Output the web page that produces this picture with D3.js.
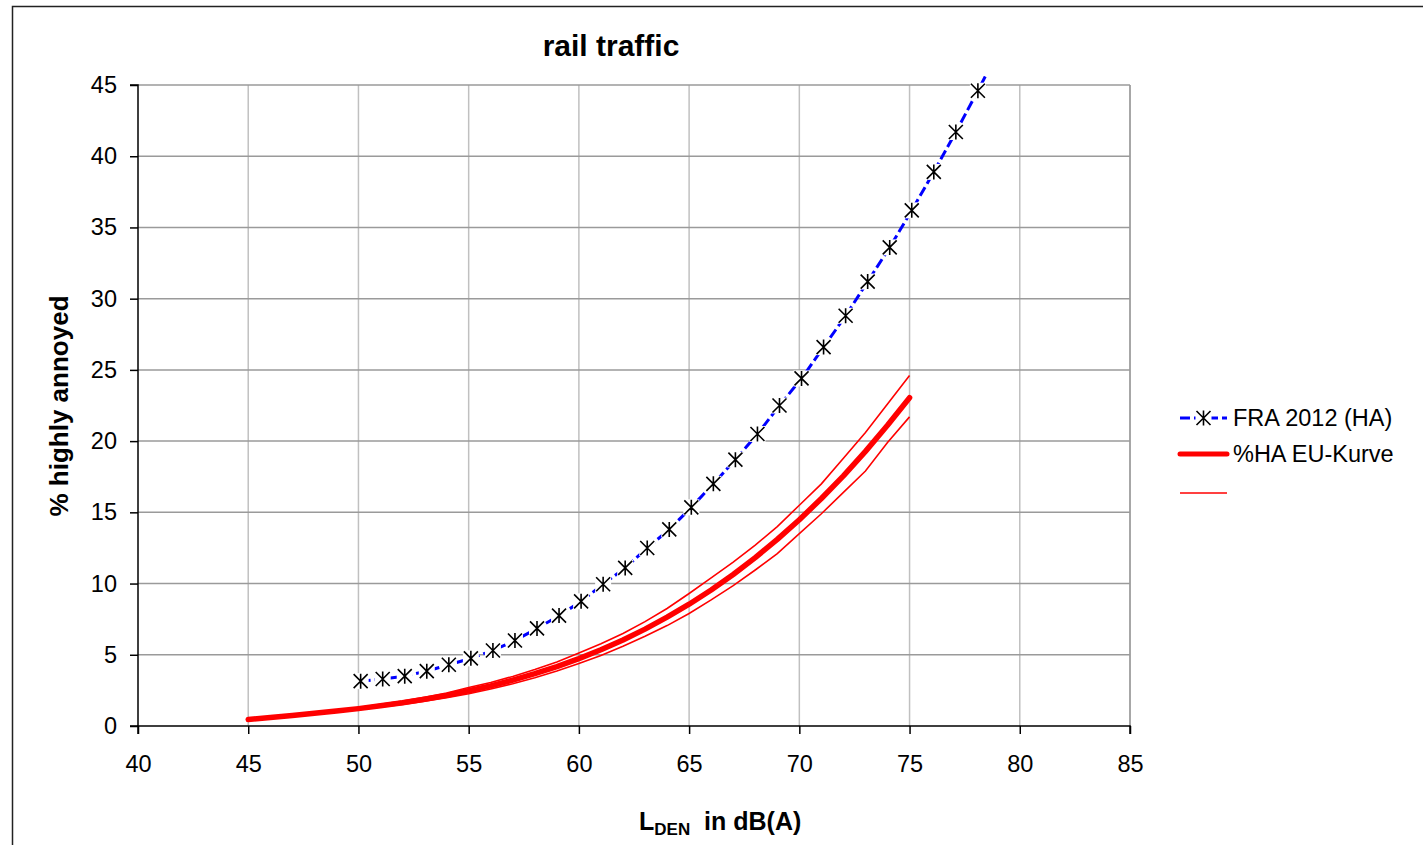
<!DOCTYPE html>
<html>
<head>
<meta charset="utf-8">
<script src="https://cdn.jsdelivr.net/npm/d3@7"></script>
<style>
  body { margin: 0; background: #fff; }
  svg { display: block; font-family: "Liberation Sans", Arial, sans-serif; }
</style>
</head>
<body>
<div id="chart"></div>
<script>
// tick values
var xTicks = [40, 45, 50, 55, 60, 65, 70, 75, 80, 85];
var yTicks = [0, 5, 10, 15, 20, 25, 30, 35, 40, 45];

// FRA 2012 (HA)
var fraLden = [50.1, 51.1, 52.1, 53.1, 54.1, 55.1, 56.1, 57.1, 58.1, 59.1, 60.1, 61.1, 62.1, 63.1, 64.1,
               65.1, 66.1, 67.1, 68.1, 69.1, 70.1, 71.1, 72.1, 73.1, 74.1, 75.1, 76.1, 77.1, 78.1, 79.1];
var fraHA   = [3.15, 3.3, 3.5, 3.85, 4.3, 4.75, 5.3, 6.0, 6.85, 7.75, 8.75, 9.95, 11.1, 12.5, 13.8,
               15.35, 17.0, 18.7, 20.5, 22.5, 24.4, 26.6, 28.8, 31.2, 33.6, 36.2, 38.9, 41.7, 44.6, 47.6];

// %HA EU-Kurve with the two thin bounds
var euLden  = [45, 46, 47, 48, 49, 50, 51, 52, 53, 54, 55, 56, 57, 58, 59, 60,
               61, 62, 63, 64, 65, 66, 67, 68, 69, 70, 71, 72, 73, 74, 75];
var euHA    = [0.46, 0.6, 0.74, 0.89, 1.05, 1.22, 1.42, 1.63, 1.88, 2.15, 2.47, 2.82, 3.22, 3.67, 4.17, 4.73,
               5.35, 6.04, 6.8, 7.64, 8.55, 9.55, 10.64, 11.82, 13.1, 14.48, 15.97, 17.56, 19.28, 21.11, 23.05];
var euUpper = [0.5, 0.64, 0.78, 0.94, 1.11, 1.3, 1.52, 1.75, 2.02, 2.32, 2.7, 3.05, 3.48, 3.97, 4.5, 5.12,
               5.78, 6.5, 7.33, 8.25, 9.3, 10.4, 11.5, 12.7, 14.0, 15.5, 17.0, 18.8, 20.6, 22.6, 24.6];
var euLower = [0.42, 0.56, 0.7, 0.84, 0.99, 1.15, 1.33, 1.52, 1.74, 1.98, 2.26, 2.6, 2.97, 3.38, 3.86, 4.38,
               4.95, 5.6, 6.3, 7.05, 7.9, 8.85, 9.85, 10.95, 12.1, 13.5, 14.9, 16.4, 17.9, 19.9, 21.7];

var W = 1423, H = 845;
var margin = {top: 85, left: 138},
    width = 992,
    height = 641;

var svg = d3.select("#chart").append("svg")
    .attr("width", W)
    .attr("height", H);

// outer chart frame
svg.append("rect")
    .attr("x", 12.5).attr("y", 6.5)
    .attr("width", W).attr("height", H)
    .attr("fill", "none")
    .attr("stroke", "#222")
    .attr("stroke-width", 1.5);

var g = svg.append("g")
    .attr("transform", "translate(" + margin.left + "," + margin.top + ")");

var x = d3.scaleLinear().domain([40, 85]).range([0, width]);
var y = d3.scaleLinear().domain([0, 45]).range([height, 0]);

// grid
g.selectAll(".vgrid").data(xTicks.slice(1))
  .enter().append("line")
    .attr("x1", function(d) { return x(d); })
    .attr("x2", function(d) { return x(d); })
    .attr("y1", 0).attr("y2", height)
    .attr("stroke", function(d) { return d == 85 ? "#8a8a8a" : "#c0c0c0"; })
    .attr("stroke-width", 1.5);

g.selectAll(".hgrid").data(yTicks.slice(1))
  .enter().append("line")
    .attr("x1", 0).attr("x2", width)
    .attr("y1", function(d) { return y(d); })
    .attr("y2", function(d) { return y(d); })
    .attr("stroke", "#9a9a9a")
    .attr("stroke-width", 1.5);

// axes
var xAxis = d3.axisBottom(x).tickValues(xTicks).tickSize(8).tickPadding(21);
var yAxis = d3.axisLeft(y).tickValues(yTicks).tickSize(8).tickPadding(13);

var gx = g.append("g")
    .attr("transform", "translate(0," + height + ")")
    .call(xAxis);
var gy = g.append("g").call(yAxis);

[gx, gy].forEach(function(a) {
  a.select(".domain").attr("stroke", "#000").attr("stroke-width", 1.5);
  a.selectAll(".tick line").attr("stroke", "#000").attr("stroke-width", 1.5);
  a.selectAll(".tick text")
    .attr("fill", "#000")
    .style("font-size", "23.5px")
    .style("font-family", "'Liberation Sans', Arial, sans-serif");
});
gy.select(".domain").attr("d", "M-8," + height + "H0V0H-8");
gx.select(".domain").attr("d", "M0,8V0H" + width + "V8");

// clip (series run a bit past the top like the original)
svg.append("clipPath").attr("id", "clip")
  .append("rect")
    .attr("x", 0).attr("y", -9)
    .attr("width", width).attr("height", height + 9);

var plot = g.append("g").attr("clip-path", "url(#clip)");

function lineOf(xs, ys) {
  return d3.line()
    .x(function(d, i) { return x(xs[i]); })
    .y(function(d) { return y(d); })(ys);
}

// red EU curves
plot.append("path")
    .attr("d", lineOf(euLden, euUpper))
    .attr("fill", "none").attr("stroke", "#ff0000").attr("stroke-width", 1.6);
plot.append("path")
    .attr("d", lineOf(euLden, euLower))
    .attr("fill", "none").attr("stroke", "#ff0000").attr("stroke-width", 1.6);
plot.append("path")
    .attr("d", lineOf(euLden, euHA))
    .attr("fill", "none").attr("stroke", "#ff0000").attr("stroke-width", 5.5)
    .attr("stroke-linecap", "round").attr("stroke-linejoin", "round");

// FRA dashed blue line
plot.append("path")
    .attr("d", lineOf(fraLden, fraHA))
    .attr("fill", "none").attr("stroke", "#0000ff").attr("stroke-width", 3)
    .attr("stroke-dasharray", "10,4");

// star markers
var star = plot.selectAll(".star").data(fraHA)
  .enter().append("g")
    .attr("class", "star")
    .attr("transform", function(d, i) { return "translate(" + x(fraLden[i]) + "," + y(d) + ")"; });

star.append("rect")
    .attr("x", -8).attr("y", -8).attr("width", 16).attr("height", 16)
    .attr("fill", "#fff");
star.append("path")
    .attr("d", "M-7,-7L7,7M-7,7L7,-7M0,-7.5V7.5")
    .attr("stroke", "#000").attr("stroke-width", 1.6).attr("fill", "none");

// title
svg.append("text")
    .attr("x", 611).attr("y", 56)
    .attr("text-anchor", "middle")
    .style("font-size", "30px").style("font-weight", "bold")
    .text("rail traffic");

// y axis title
svg.append("text")
    .attr("transform", "translate(68,406) rotate(-90)")
    .attr("text-anchor", "middle")
    .style("font-size", "26px").style("font-weight", "bold")
    .text("% highly annoyed");

// x axis title
var xt = svg.append("text")
    .attr("x", 639).attr("y", 830)
    .style("font-size", "25px").style("font-weight", "bold");
xt.append("tspan").text("L");
xt.append("tspan").attr("dy", 5).style("font-size", "17px").text("DEN");
xt.append("tspan").attr("dy", -5).text("\u00a0 in dB(A)");

// legend
var legend = svg.append("g").attr("transform", "translate(1180,0)");

legend.append("line")
    .attr("x1", 0).attr("x2", 47).attr("y1", 418).attr("y2", 418)
    .attr("stroke", "#0000ff").attr("stroke-width", 3).attr("stroke-dasharray", "10,4");
legend.append("rect")
    .attr("x", 15.5).attr("y", 410).attr("width", 16).attr("height", 16).attr("fill", "#fff");
legend.append("path")
    .attr("d", "M16.5,411L30.5,425M16.5,425L30.5,411M23.5,410.5V425.5")
    .attr("stroke", "#000").attr("stroke-width", 1.6);
legend.append("text")
    .attr("x", 53).attr("y", 426)
    .style("font-size", "23.5px")
    .text("FRA 2012 (HA)");

legend.append("line")
    .attr("x1", 0).attr("x2", 47).attr("y1", 454).attr("y2", 454)
    .attr("stroke", "#ff0000").attr("stroke-width", 5).attr("stroke-linecap", "round");
legend.append("text")
    .attr("x", 53).attr("y", 462)
    .style("font-size", "23.5px")
    .text("%HA EU-Kurve");

legend.append("line")
    .attr("x1", 0).attr("x2", 47).attr("y1", 493).attr("y2", 493)
    .attr("stroke", "#ff0000").attr("stroke-width", 1.6);
</script>
</body>
</html>
